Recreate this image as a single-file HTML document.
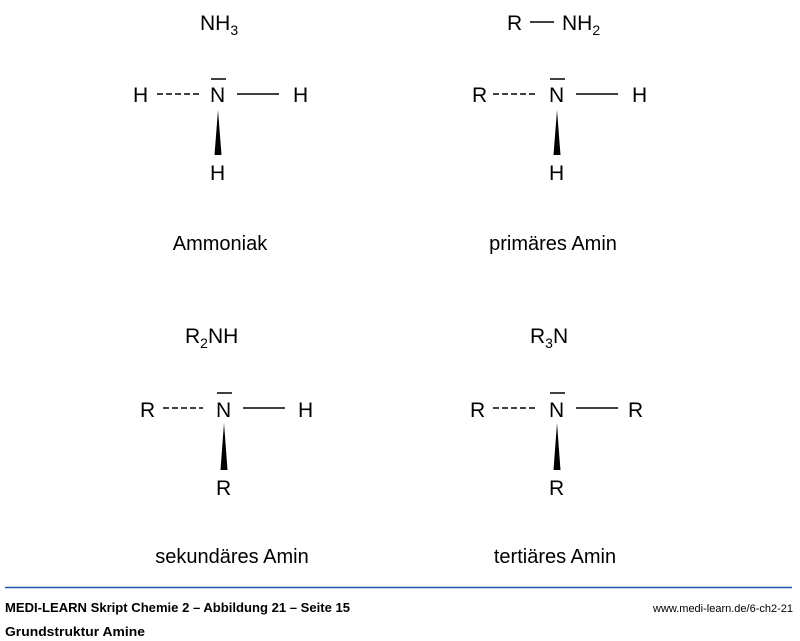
<!DOCTYPE html>
<html><head><meta charset="utf-8"><style>
body{margin:0;background:#fff;width:800px;height:641px;overflow:hidden}
svg{display:block}
text{font-family:"Liberation Sans",sans-serif;fill:#000}
</style></head><body>
<svg width="800" height="641" viewBox="0 0 800 641">
<g font-size="21">
<!-- Q1 -->
<text x="200" y="30">NH<tspan font-size="14" dy="5">3</tspan></text>
<text x="133" y="102">H</text>
<line x1="157" y1="94" x2="201" y2="94" stroke="#000" stroke-width="1.6" stroke-dasharray="6,3"/>
<text x="210" y="102">N</text>
<line x1="211" y1="79" x2="226" y2="79" stroke="#000" stroke-width="1.5"/>
<line x1="237" y1="94" x2="279" y2="94" stroke="#000" stroke-width="1.5"/>
<text x="293" y="102">H</text>
<polygon points="218,110 214.5,155 221.5,155" fill="#000"/>
<text x="210" y="180">H</text>
<text x="220" y="250" text-anchor="middle" font-size="20">Ammoniak</text>
<!-- Q2 -->
<text x="507" y="30">R</text>
<line x1="530" y1="22" x2="554" y2="22" stroke="#000" stroke-width="1.5"/>
<text x="562" y="30">NH<tspan font-size="14" dy="5">2</tspan></text>
<text x="472" y="102">R</text>
<line x1="493" y1="94" x2="537" y2="94" stroke="#000" stroke-width="1.6" stroke-dasharray="6,3"/>
<text x="549" y="102">N</text>
<line x1="550" y1="79" x2="565" y2="79" stroke="#000" stroke-width="1.5"/>
<line x1="576" y1="94" x2="618" y2="94" stroke="#000" stroke-width="1.5"/>
<text x="632" y="102">H</text>
<polygon points="557,110 553.5,155 560.5,155" fill="#000"/>
<text x="549" y="180">H</text>
<text x="553" y="250" text-anchor="middle" font-size="20">primäres Amin</text>
<!-- Q3 -->
<text x="185" y="343">R<tspan font-size="14" dy="5">2</tspan><tspan dy="-5">NH</tspan></text>
<text x="140" y="417">R</text>
<line x1="163" y1="408" x2="203" y2="408" stroke="#000" stroke-width="1.6" stroke-dasharray="6,3"/>
<text x="216" y="417">N</text>
<line x1="217" y1="393" x2="232" y2="393" stroke="#000" stroke-width="1.5"/>
<line x1="243" y1="408" x2="285" y2="408" stroke="#000" stroke-width="1.5"/>
<text x="298" y="417">H</text>
<polygon points="224,423 220.5,470 227.5,470" fill="#000"/>
<text x="216" y="495">R</text>
<text x="232" y="563" text-anchor="middle" font-size="20">sekundäres Amin</text>
<!-- Q4 -->
<text x="530" y="343">R<tspan font-size="14" dy="5">3</tspan><tspan dy="-5">N</tspan></text>
<text x="470" y="417">R</text>
<line x1="493" y1="408" x2="537" y2="408" stroke="#000" stroke-width="1.6" stroke-dasharray="6,3"/>
<text x="549" y="417">N</text>
<line x1="550" y1="393" x2="565" y2="393" stroke="#000" stroke-width="1.5"/>
<line x1="576" y1="408" x2="618" y2="408" stroke="#000" stroke-width="1.5"/>
<text x="628" y="417">R</text>
<polygon points="557,423 553.5,470 560.5,470" fill="#000"/>
<text x="549" y="495">R</text>
<text x="555" y="563" text-anchor="middle" font-size="20">tertiäres Amin</text>
</g>
<line x1="5" y1="587.5" x2="792" y2="587.5" stroke="#1f5aa6" stroke-width="1.5"/>
<text x="5" y="612" font-size="13" font-weight="bold" textLength="345" lengthAdjust="spacingAndGlyphs">MEDI-LEARN Skript Chemie 2 – Abbildung 21 – Seite 15</text>
<text x="793" y="612" font-size="11" text-anchor="end" textLength="140" lengthAdjust="spacingAndGlyphs">www.medi-learn.de/6-ch2-21</text>
<text x="5" y="636" font-size="13" font-weight="bold" textLength="140" lengthAdjust="spacingAndGlyphs">Grundstruktur Amine</text>
</svg>
</body></html>
